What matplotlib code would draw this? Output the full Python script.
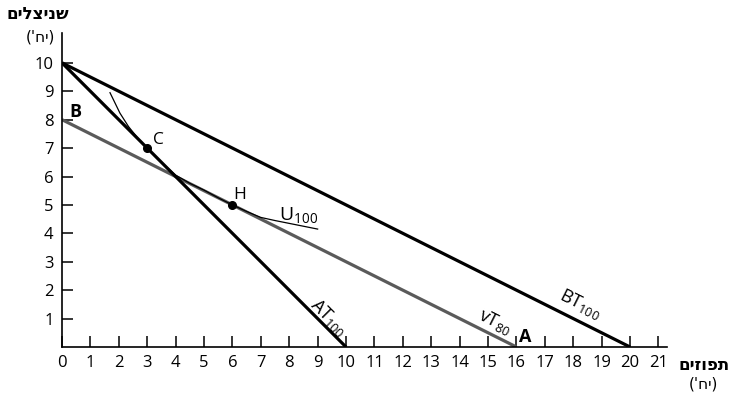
import matplotlib
matplotlib.use("Agg")
import matplotlib.pyplot as plt

# Data
x_ticks = list(range(0, 22))
y_ticks = list(range(1, 11))
line_AT = ([0, 10], [10, 0])
line_BT = ([0, 20], [10, 0])
line_vT = ([0, 16], [8, 0])
u_x = [1.69, 2.04, 2.34, 2.65, 3.0, 3.5, 4.0, 4.5, 5.0, 5.5, 6.0, 6.5, 7.0, 7.5, 8.0, 8.5, 9.0]
u_y = [8.95, 8.23, 7.76, 7.37, 7.0, 6.5, 6.05, 5.76, 5.52, 5.25, 5.0, 4.77, 4.56, 4.45, 4.35, 4.25, 4.15]
points = {"C": (3, 7), "H": (6, 5)}

plt.rcParams['font.family'] = ['Open Sans', 'DejaVu Sans']
fig = plt.figure(figsize=(7.42, 4.03), dpi=100)
ax = fig.add_axes([62/742, 56/403, 605/742, 314/403])
ax.set_xlim(0, 21.3)
ax.set_ylim(0, 11.05)

ax.plot(*line_BT, color='black', lw=2.3, solid_capstyle='butt')
ax.plot(*line_vT, color='#5a5a5a', lw=2.3, solid_capstyle='butt')
ax.plot(*line_AT, color='black', lw=2.3, solid_capstyle='butt')
ax.plot(u_x, u_y, color='black', lw=0.9)
for k, (px, py) in points.items():
    ax.plot(px, py, 'o', color='black', ms=5.5)
ax.text(3.38, 7.29, "C", fontsize=12.5, ha='center', va='center')
ax.text(6.27, 5.35, "H", fontsize=12.5, ha='center', va='center')
ax.text(0.46, 8.27, "B", fontsize=13, fontweight='bold', ha='center', va='center')
ax.text(16.3, 0.35, "A", fontsize=13, fontweight='bold', ha='center', va='center')

ax.text(9.4, 1.02, r"$\mathregular{AT_{100}}$", fontsize=13, rotation=-45, ha='center', va='center', rotation_mode='anchor')
ax.text(15.25, 0.9, r"$\mathregular{vT_{80}}$", fontsize=13, rotation=-26.6, ha='center', va='center', rotation_mode='anchor')
ax.text(18.24, 1.5, r"$\mathregular{BT_{100}}$", fontsize=13, rotation=-26.6, ha='center', va='center', rotation_mode='anchor')
ax.text(8.31, 4.63, r"$\mathregular{U_{100}}$", fontsize=14, ha='center', va='center')

for s in ['top', 'right']:
    ax.spines[s].set_visible(False)
for s in ['left', 'bottom']:
    ax.spines[s].set_linewidth(1.2)
ax.set_xticks(x_ticks)
ax.set_yticks(y_ticks)
ax.tick_params(direction='in', length=8, width=1.1, labelsize=12, pad=6)

fig.text(38/742, 1 - 14/403, "םילצינש", fontsize=12, fontweight='bold', family='DejaVu Sans', ha='center', va='center')
fig.text(40/742, 1 - 37/403, "('חי)", fontsize=11, family='DejaVu Sans', ha='center', va='center')
fig.text(704/742, 1 - 365/403, "םיזופת", fontsize=12, fontweight='bold', family='DejaVu Sans', ha='center', va='center')
fig.text(703/742, 1 - 384/403, "('חי)", fontsize=11, family='DejaVu Sans', ha='center', va='center')

fig.savefig("out.png", dpi=100)
